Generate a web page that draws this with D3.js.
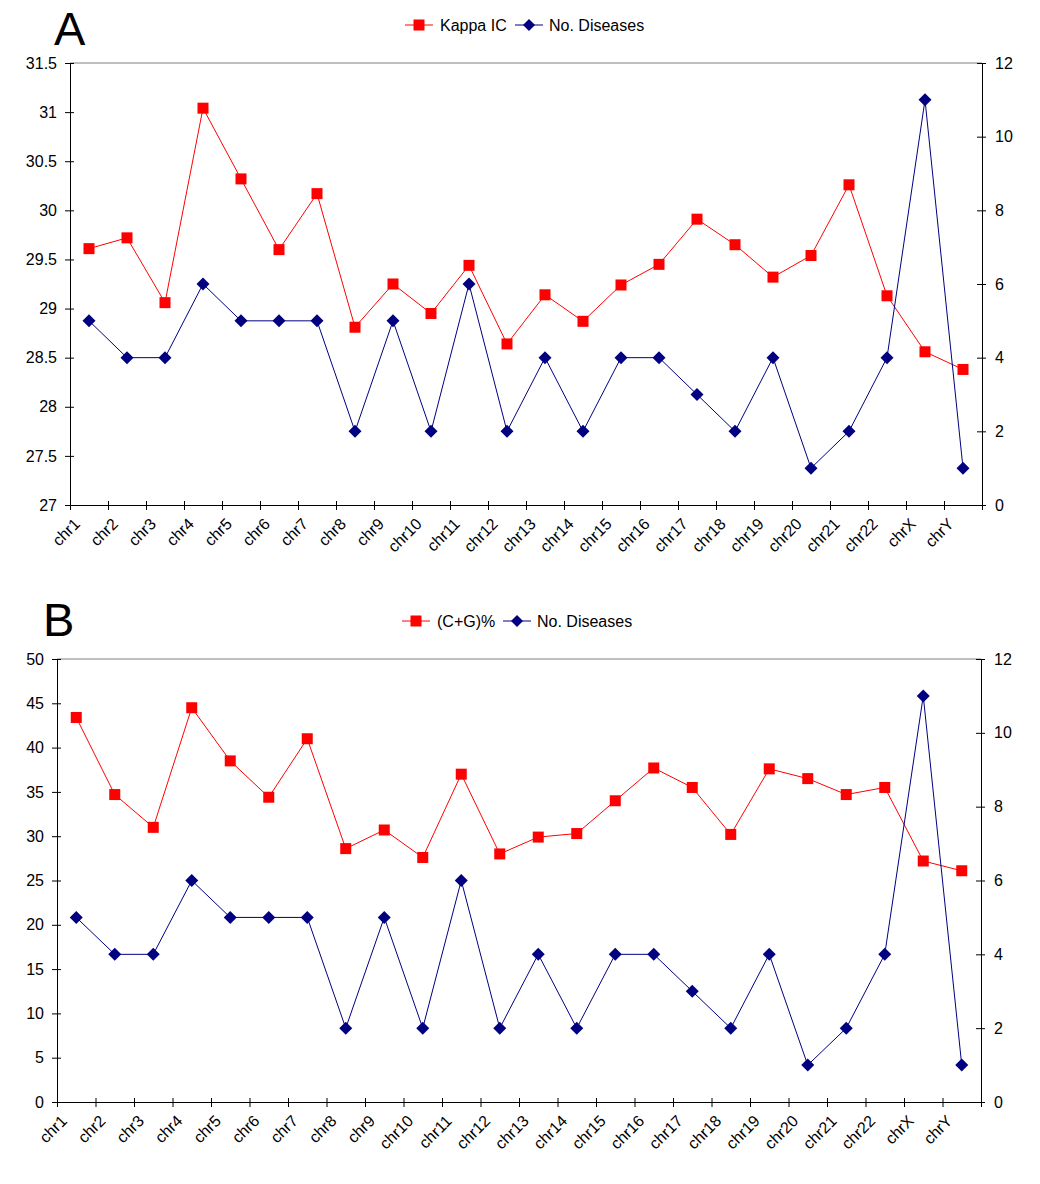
<!DOCTYPE html>
<html>
<head>
<meta charset="utf-8">
<script src="https://cdn.jsdelivr.net/npm/d3@7"></script>
<style>
  body { margin: 0; background: #fff; }
  svg { font-family: "Liberation Sans", Arial, sans-serif; }
</style>
</head>
<body>
<svg id="chart"></svg>
<script>
// Chromosomes on the x axis
const chromosomes = ["chr1", "chr2", "chr3", "chr4", "chr5", "chr6", "chr7", "chr8",
  "chr9", "chr10", "chr11", "chr12", "chr13", "chr14", "chr15", "chr16", "chr17",
  "chr18", "chr19", "chr20", "chr21", "chr22", "chrX", "chrY"];

// Panel A: Kappa IC
const kappaIC = [29.61, 29.72, 29.06, 31.04, 30.32, 29.6, 30.17, 28.81, 29.25, 28.95,
  29.44, 28.64, 29.14, 28.87, 29.24, 29.45, 29.91, 29.65, 29.32, 29.54, 30.26, 29.13,
  28.56, 28.38];

// Panel B: (C+G)%
const cgPercent = [43.4, 34.7, 31.0, 44.5, 38.5, 34.4, 41.0, 28.6, 30.7, 27.6, 37.0,
  28.0, 29.9, 30.3, 34.0, 37.7, 35.5, 30.2, 37.6, 36.5, 34.7, 35.5, 27.2, 26.1];

// Number of diseases (right axis, both panels)
const diseases = [5, 4, 4, 6, 5, 5, 5, 2, 5, 2, 6, 2, 4, 2, 4, 4, 3, 2, 4, 1, 2, 4, 11, 1];

// Axis ticks
const kappaTicks = [27, 27.5, 28, 28.5, 29, 29.5, 30, 30.5, 31, 31.5];
const cgTicks = [0, 5, 10, 15, 20, 25, 30, 35, 40, 45, 50];
const diseaseTicks = [0, 2, 4, 6, 8, 10, 12];

const svg = d3.select("#chart").attr("width", 1040).attr("height", 1184);

function drawPanel(cfg) {
  const g = svg.append("g");

  const x = d3.scaleBand().domain(chromosomes).range([cfg.left, cfg.right]).paddingInner(0);
  const yL = d3.scaleLinear().domain(cfg.leftDomain).range([cfg.bottom, cfg.top]);
  const yR = d3.scaleLinear().domain([0, 12]).range([cfg.bottom, cfg.top]);
  const cx = (d, i) => x(chromosomes[i]) + x.bandwidth() / 2;

  // top border line (gray)
  g.append("line")
    .attr("x1", cfg.left).attr("x2", cfg.right)
    .attr("y1", cfg.top).attr("y2", cfg.top)
    .attr("stroke", "#808080").attr("stroke-width", 1);

  // left axis
  const leftAxis = g.append("g")
    .attr("transform", `translate(${cfg.left},0)`)
    .call(d3.axisLeft(yL).tickValues(cfg.leftTicks).tickFormat(d => String(d))
      .tickSizeOuter(0).tickSize(4).tickPadding(9));
  leftAxis.selectAll(".tick line").attr("x2", 4).attr("x1", -5);

  // right axis
  const rightAxis = g.append("g")
    .attr("transform", `translate(${cfg.right},0)`)
    .call(d3.axisRight(yR).tickValues(diseaseTicks).tickFormat(d => String(d))
      .tickSizeOuter(0).tickSize(4).tickPadding(9));
  rightAxis.selectAll(".tick line").attr("x1", -5).attr("x2", 4);

  [leftAxis, rightAxis].forEach(a => {
    a.select(".domain").attr("stroke", "#000");
    a.selectAll("text").style("font-size", "16px").attr("fill", "#000");
  });

  // bottom axis with ticks at category boundaries
  const xb = d3.scaleLinear().domain([0, chromosomes.length]).range([cfg.left, cfg.right]);
  const bottomAxis = g.append("g")
    .attr("transform", `translate(0,${cfg.bottom})`)
    .call(d3.axisBottom(xb).tickValues(d3.range(chromosomes.length + 1))
      .tickFormat("").tickSizeOuter(0).tickSize(5));
  bottomAxis.selectAll(".tick line").attr("y1", -4);

  // rotated category labels
  g.append("g").selectAll("text")
    .data(chromosomes)
    .join("text")
    .attr("transform", d => `translate(${x(d) + 3},${cfg.bottom + 12}) rotate(-45)`)
    .attr("text-anchor", "end")
    .attr("dy", "0.7em")
    .style("font-size", "16px")
    .text(d => d);

  // left series (red squares)
  const lineL = d3.line().x(cx).y(d => yL(d));
  g.append("path").datum(cfg.leftValues)
    .attr("d", lineL).attr("fill", "none")
    .attr("stroke", "#ff0000").attr("stroke-width", 1);
  g.append("g").selectAll("rect")
    .data(cfg.leftValues)
    .join("rect")
    .attr("x", (d, i) => cx(d, i) - 5.5)
    .attr("y", d => yL(d) - 5.5)
    .attr("width", 11).attr("height", 11)
    .attr("fill", "#ff0000");

  // right series (navy diamonds)
  const lineR = d3.line().x(cx).y(d => yR(d));
  g.append("path").datum(diseases)
    .attr("d", lineR).attr("fill", "none")
    .attr("stroke", "#000080").attr("stroke-width", 1);
  g.append("g").selectAll("path.dm")
    .data(diseases)
    .join("path")
    .attr("class", "dm")
    .attr("d", (d, i) => {
      const px = cx(d, i), py = yR(d);
      return `M${px},${py - 6.5}L${px + 6.5},${py}L${px},${py + 6.5}L${px - 6.5},${py}Z`;
    })
    .attr("fill", "#000080");

  // panel letter
  g.append("text")
    .attr("x", cfg.letterX).attr("y", cfg.letterY)
    .style("font-size", "47px")
    .text(cfg.letter);

  // legend
  const lg = g.append("g").attr("transform", `translate(${cfg.legendX},${cfg.legendY})`);
  lg.append("line").attr("x1", 0).attr("x2", 28).attr("stroke", "#ff0000");
  lg.append("rect").attr("x", 8.5).attr("y", -5.5).attr("width", 11).attr("height", 11).attr("fill", "#ff0000");
  lg.append("text").attr("x", 35).attr("dy", "0.35em").style("font-size", "16px").text(cfg.leftName);
  const off = cfg.legendGap;
  lg.append("line").attr("x1", off).attr("x2", off + 28).attr("stroke", "#000080");
  lg.append("path")
    .attr("d", `M${off + 14},-6L${off + 20},0L${off + 14},6L${off + 8},0Z`)
    .attr("fill", "#000080");
  lg.append("text").attr("x", off + 34).attr("dy", "0.35em").style("font-size", "16px").text("No. Diseases");
}

drawPanel({
  left: 70, right: 982, top: 63, bottom: 505,
  leftDomain: [27, 31.5], leftTicks: kappaTicks, leftValues: kappaIC,
  letter: "A", letterX: 54, letterY: 45,
  leftName: "Kappa IC", legendX: 405, legendY: 25, legendGap: 110
});

drawPanel({
  left: 57, right: 981, top: 659, bottom: 1102,
  leftDomain: [0, 50], leftTicks: cgTicks, leftValues: cgPercent,
  letter: "B", letterX: 43, letterY: 636,
  leftName: "(C+G)%", legendX: 402, legendY: 621, legendGap: 101
});
</script>
</body>
</html>
